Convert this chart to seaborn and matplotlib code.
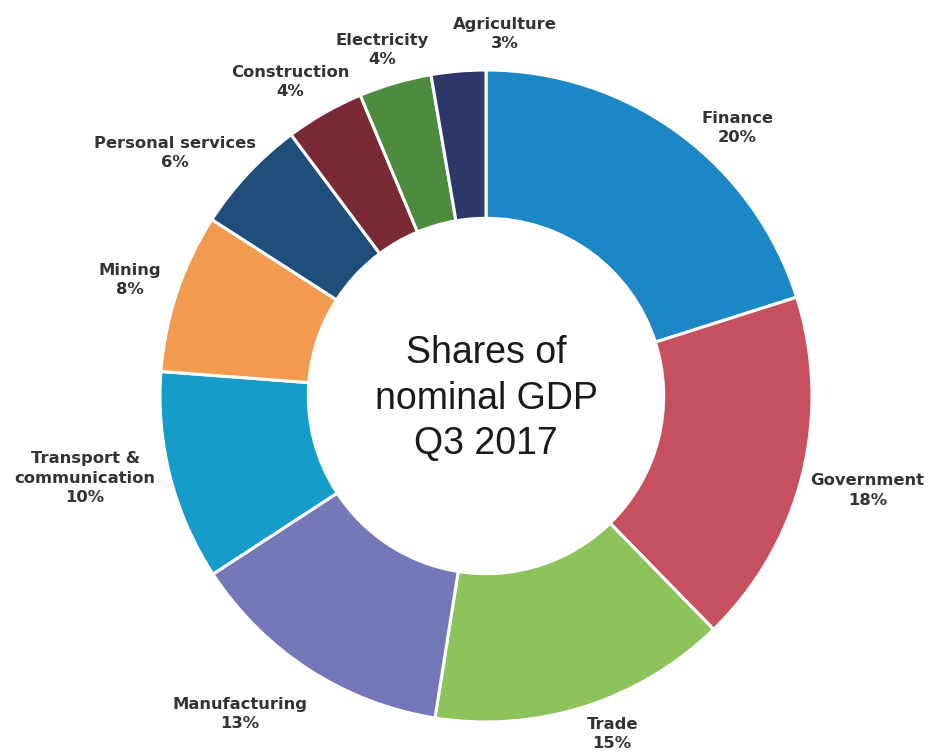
import matplotlib
matplotlib.use("Agg")
import matplotlib.pyplot as plt
import seaborn as sns

# Sector shares of nominal GDP, Q3 2017 (percent)
sectors = ["Finance", "Government", "Trade", "Manufacturing",
           "Transport &\ncommunication", "Mining", "Personal services",
           "Construction", "Electricity", "Agriculture"]
shares = [20.1, 17.6, 14.8, 13.3, 10.4, 7.9, 5.7, 3.9, 3.6, 2.7]
colors = ["#1B87C4", "#C6505E", "#8DC35A", "#7478B8", "#169CC9",
          "#F29A4F", "#1F4E7A", "#7A2937", "#4D8B3F", "#2E3868"]
center_title = "Shares of\nnominal GDP\nQ3 2017"

# Label anchors (pie radius units, relative to the centre)
label_pos = [(0.770, 0.822), (1.170, -0.290), (0.387, -1.037),
             (-0.755, -0.975), (-1.230, -0.252), (-1.092, 0.356),
             (-0.954, 0.745), (-0.601, 0.963), (-0.319, 1.061),
             (0.058, 1.110)]

sns.set_theme(style="white")
palette = sns.color_palette(colors)

W, H, DPI = 930, 756, 100
R_PX = 326.0           # outer radius in pixels
CX, CY = 486.0, 396.0  # centre in pixels (y from top)

fig = plt.figure(figsize=(W / DPI, H / DPI), dpi=DPI)
fig.patch.set_facecolor("white")
ax = fig.add_axes([0, 0, 1, 1])

ax.pie(shares, colors=palette, startangle=90, counterclock=False,
       radius=1.0,
       wedgeprops=dict(width=0.455, edgecolor="white", linewidth=2.2))

ax.set_xlim(-CX / R_PX, (W - CX) / R_PX)
ax.set_ylim(-(H - CY) / R_PX, CY / R_PX)
ax.set_aspect("equal", adjustable="datalim")
ax.axis("off")

total = sum(shares)
for name, val, (lx, ly) in zip(sectors, shares, label_pos):
    ax.text(lx, ly, f"{name}\n{round(val / total * 100):.0f}%",
            ha="center", va="center", fontsize=11.8, fontweight="bold",
            family="DejaVu Sans", color="#333333", linespacing=1.35)

ax.text(0, -0.008, center_title, ha="center", va="center", fontsize=27,
        family="Liberation Sans", color="#1a1a1a", linespacing=1.33)

fig.savefig("out.png", dpi=DPI, facecolor="white")
